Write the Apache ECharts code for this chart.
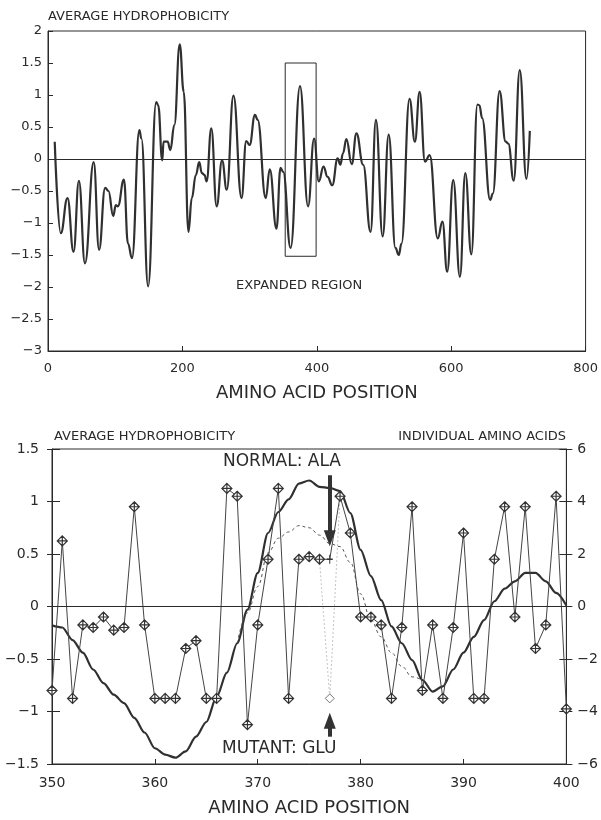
<!DOCTYPE html>
<html><head><meta charset="utf-8">
<script src="https://cdn.jsdelivr.net/npm/echarts@6/dist/echarts.min.js"></script>
<style>html,body{margin:0;padding:0;background:#fff}#c{width:601px;height:820px}</style>
</head><body><div id="c"></div>
<script>
// ---------- DATA (top panel: whole protein) ----------
const topPositions = [10,19,29,38,46,55,68,76,85,90,97,101,104,113,119,125,136,139,149,161,164,170,172,178,182,188,196,202,209,214,220,225,229,233,236,243,251,259,266,276,288,295,300,308,312,324,330,340,346,350,361,375,387,396,403,410,416,423,431,435,439,444,452,459,469,480,488,498,507,517,522,526,538,546,553,561,568,580,587,594,603,613,621,630,639,642,646,658,662,672,681,685,693,702,712,717];
const topValues = [0.27,-1.16,-0.61,-1.45,-0.34,-1.63,-0.05,-1.42,-0.45,-0.5,-0.89,-0.72,-0.74,-0.32,-1.32,-1.55,0.45,0.32,-1.99,0.89,0.84,-0.02,0.27,0.27,0.14,0.53,1.79,1.05,-1.14,-0.61,-0.25,-0.05,-0.22,-0.25,-0.35,0.48,-0.74,-0.02,-0.48,0.99,-0.61,0.28,0.22,0.69,0.61,-0.61,-0.16,-1.09,-0.14,-0.2,-1.39,1.14,-0.74,0.32,-0.35,-0.12,-0.28,-0.41,0.01,-0.09,0.09,0.31,-0.08,0.4,-0.09,-1.14,0.61,-1.21,0.38,-1.39,-1.5,-1.32,0.94,0.27,1.05,-0.04,0.06,-1.24,-0.98,-1.76,-0.33,-1.84,-0.22,-1.49,0.85,0.84,0.64,-0.64,-0.54,1.06,0.27,0.24,-0.34,1.39,-0.31,0.44];
const expandedBox = {x0: 353, x1: 399, y0: -1.52, y1: 1.5};
const topXTickLabels = {0:'0',200:'200',400:'400',600:'600',800:'800'};
const topYTickLabels = {'2':'2','1.5':'1.5','1':'1','0.5':'0.5','0':'0','-0.5':'−0.5','-1':'−1','-1.5':'−1.5','-2':'−2','-2.5':'−2.5','-3':'−3'};

// ---------- DATA (bottom panel: residues 350-400) ----------
const residuePositions = [350,351,352,353,354,355,356,357,358,359,360,361,362,363,364,365,366,367,368,369,370,371,372,373,374,375,376,377,378,379,380,381,382,383,384,385,386,387,388,389,390,391,392,393,394,395,396,397,398,399,400];
const individualValues = [-3.2,2.5,-3.5,-0.7,-0.8,-0.4,-0.9,-0.8,3.8,-0.7,-3.5,-3.5,-3.5,-1.6,-1.3,-3.5,-3.5,4.5,4.2,-4.5,-0.7,1.8,4.5,-3.5,1.8,1.9,1.8,1.8,4.2,2.8,-0.4,-0.4,-0.7,-3.5,-0.8,3.8,-3.2,-0.7,-3.5,-0.8,2.8,-3.5,-3.5,1.8,3.8,-0.4,3.8,-1.6,-0.7,4.2,-3.9];
const averageValues = [-0.18,-0.2,-0.32,-0.44,-0.6,-0.73,-0.84,-0.92,-1.06,-1.2,-1.35,-1.41,-1.44,-1.38,-1.24,-1.1,-0.86,-0.63,-0.35,-0.03,0.32,0.7,0.9,1.02,1.17,1.2,1.14,1.13,1.1,0.89,0.54,0.29,0.06,-0.19,-0.35,-0.51,-0.7,-0.81,-0.76,-0.6,-0.44,-0.29,-0.13,0.05,0.17,0.24,0.32,0.32,0.24,0.13,0.01];
const mutantAvgPositions = [368,369,370,371,372,373,374,375,376,377,378,379,380,381,382,383,384,385,386];
const mutantAvgValues = [-0.35,-0.06,0.19,0.51,0.65,0.71,0.77,0.75,0.68,0.6,0.57,0.42,0.12,-0.13,-0.29,-0.44,-0.57,-0.67,-0.7];
const mutantPositions = [376,377,378];
const mutantValues = [1.8,-3.5,4.2];
const normalPosition = 377;
const arrowDown = [377, 5.0, 2.6];   // right-axis units: start, end
const arrowUp = [377, -4.96, -4.35];
const leftYTickLabels = {'1.5':'1.5','1':'1','0.5':'0.5','0':'0','-0.5':'−0.5','-1':'−1','-1.5':'−1.5'};
const rightYTickLabels = {'6':'6','4':'4','2':'2','0':'0','-2':'−2','-4':'−4','-6':'−6'};
const bottomXTickLabels = {350:'350',360:'360',370:'370',380:'380',390:'390',400:'400'};

// ---------- CHART ----------
const FONT = 'DejaVu Sans';
const INK = '#2a2a2a';
const chart = echarts.init(document.getElementById('c'), null, {renderer: 'canvas'});

const topSeriesData = topPositions.map((p, i) => [p, topValues[i]]);
const individualData = residuePositions.map((p, i) => {
  const item = {value: [p, individualValues[i]]};
  if (p === normalPosition) { item.symbol = 'path://M0,10L20,10M10,0L10,20'; item.symbolSize = [6, 9]; }
  return item;
});
const averageData = residuePositions.map((p, i) => [p, averageValues[i]]);
const mutantAvgData = mutantAvgPositions.map((p, i) => [p, mutantAvgValues[i]]);
const mutantData = mutantPositions.map((p, i) => {
  const item = {value: [p, mutantValues[i]]};
  item.symbol = (p === normalPosition) ? 'diamond' : 'none';
  return item;
});

const diamondCross = 'path://M10,0L20,10L10,20L0,10Z M0,10L20,10 M10,0L10,20';
const lbl = (map) => (v) => (map[String(v)] !== undefined ? map[String(v)] : '');
const axisLine = {show: true, onZero: false, lineStyle: {color: INK, width: 1}};
const noSplit = {show: false};

chart.setOption({
  animation: false,
  backgroundColor: '#fff',
  grid: [
    {left: 48, top: 31, width: 540, height: 320, show: true, borderColor: INK, borderWidth: 1, backgroundColor: 'transparent'},
    {left: 52, top: 449, width: 515, height: 315, show: true, borderColor: INK, borderWidth: 1, backgroundColor: 'transparent'}
  ],
  xAxis: [
    {gridIndex: 0, type: 'value', min: 0, max: 800, interval: 200,
     axisLine: axisLine, splitLine: noSplit,
     axisTick: {inside: true, length: 5, lineStyle: {color: INK}},
     axisLabel: {fontFamily: FONT, fontSize: 13, color: INK, margin: 11, formatter: lbl(topXTickLabels)},
     name: 'AMINO ACID POSITION', nameLocation: 'middle', nameGap: 33,
     nameTextStyle: {fontFamily: FONT, fontSize: 18, color: INK}},
    {gridIndex: 1, type: 'value', min: 350, max: 400, interval: 10,
     axisLine: axisLine, splitLine: noSplit,
     axisTick: {inside: true, length: 5, lineStyle: {color: INK}},
     axisLabel: {fontFamily: FONT, fontSize: 14, color: INK, margin: 12, formatter: lbl(bottomXTickLabels)},
     name: 'AMINO ACID POSITION', nameLocation: 'middle', nameGap: 35,
     nameTextStyle: {fontFamily: FONT, fontSize: 18, color: INK}}
  ],
  yAxis: [
    {gridIndex: 0, type: 'value', min: -3, max: 2, interval: 0.5,
     axisLine: axisLine, splitLine: noSplit,
     axisTick: {inside: true, length: 5, lineStyle: {color: INK}},
     axisLabel: {fontFamily: FONT, fontSize: 13, color: INK, margin: 6, formatter: lbl(topYTickLabels)}},
    {gridIndex: 1, type: 'value', min: -1.5, max: 1.5, interval: 0.5, position: 'left',
     axisLine: axisLine, splitLine: noSplit,
     axisTick: {inside: true, length: 8, lineStyle: {color: INK}},
     axisLabel: {fontFamily: FONT, fontSize: 14, color: INK, margin: 13, formatter: lbl(leftYTickLabels)}},
    {gridIndex: 1, type: 'value', min: -6, max: 6, interval: 2, position: 'right',
     axisLine: axisLine, splitLine: noSplit,
     axisTick: {inside: true, length: 7, lineStyle: {color: INK}},
     axisLabel: {fontFamily: FONT, fontSize: 14, color: INK, margin: 11, formatter: lbl(rightYTickLabels)}},
    {gridIndex: 1, type: 'value', min: -1.5, max: 1.5, interval: 0.5, position: 'left',
     axisLine: {show: false}, splitLine: noSplit, axisLabel: {show: false},
     axisTick: {inside: false, length: 5, lineStyle: {color: INK}}},
    {gridIndex: 1, type: 'value', min: -6, max: 6, interval: 2, position: 'right',
     axisLine: {show: false}, splitLine: noSplit, axisLabel: {show: false},
     axisTick: {inside: false, length: 6, lineStyle: {color: INK}}}
  ],
  series: [
    {type: 'line', xAxisIndex: 0, yAxisIndex: 0, data: topSeriesData,
     smooth: 0.45, smoothMonotone: 'x', showSymbol: false, silent: true,
     lineStyle: {color: '#303030', width: 2.2},
     markLine: {silent: true, symbol: 'none', label: {show: false},
       lineStyle: {color: INK, width: 1, type: 'solid'}, data: [{yAxis: 0}]},
     markArea: {silent: true, label: {show: false},
       itemStyle: {color: 'rgba(0,0,0,0)', borderColor: INK, borderWidth: 1},
       data: [[{coord: [expandedBox.x0, expandedBox.y1]}, {coord: [expandedBox.x1, expandedBox.y0]}]]}},
    {type: 'line', xAxisIndex: 1, yAxisIndex: 1, data: averageData,
     smooth: 0.3, smoothMonotone: 'x', showSymbol: false, silent: true,
     lineStyle: {color: '#303030', width: 2.2},
     markLine: {silent: true, symbol: 'none', label: {show: false},
       lineStyle: {color: INK, width: 1, type: 'solid'}, data: [{yAxis: 0}]}},
    {type: 'line', xAxisIndex: 1, yAxisIndex: 1, data: mutantAvgData,
     smooth: 0.4, smoothMonotone: 'x', showSymbol: false, silent: true,
     lineStyle: {color: '#555', width: 1, type: [3, 3]}},
    {type: 'line', xAxisIndex: 1, yAxisIndex: 2, data: mutantData,
     showSymbol: true, showAllSymbol: true, symbolSize: 9, silent: true,
     lineStyle: {color: '#c4c4c4', width: 1, type: [2, 2]},
     itemStyle: {color: '#fff', borderColor: '#777', borderWidth: 1}},
    {type: 'line', xAxisIndex: 1, yAxisIndex: 2, data: individualData,
     showSymbol: true, showAllSymbol: true, symbol: diamondCross, symbolSize: 10, silent: true,
     lineStyle: {color: '#444', width: 1},
     itemStyle: {color: '#fff', borderColor: '#333', borderWidth: 1.2},
     markLine: {silent: true, label: {show: false}, animation: false,
       lineStyle: {color: '#333', width: 4, type: 'solid'},
       symbolSize: [12, 16],
       data: [
         [{coord: [arrowDown[0], arrowDown[1]], symbol: 'none'}, {coord: [arrowDown[0], arrowDown[2]], symbol: 'triangle'}],
         [{coord: [arrowUp[0], arrowUp[1]], symbol: 'none'}, {coord: [arrowUp[0], arrowUp[2]], symbol: 'triangle'}]
       ]}}
  ],
  graphic: [
    {type: 'text', x: 48, y: 17, silent: true, style: {text: 'AVERAGE HYDROPHOBICITY', font: '13px "DejaVu Sans"', fill: INK, verticalAlign: 'middle', align: 'left'}},
    {type: 'text', x: 236, y: 286, silent: true, style: {text: 'EXPANDED REGION', font: '13px "DejaVu Sans"', fill: INK, verticalAlign: 'middle', align: 'left'}},
    {type: 'text', x: 54, y: 437, silent: true, style: {text: 'AVERAGE HYDROPHOBICITY', font: '13px "DejaVu Sans"', fill: INK, verticalAlign: 'middle', align: 'left'}},
    {type: 'text', x: 566, y: 437, silent: true, style: {text: 'INDIVIDUAL AMINO ACIDS', font: '13px "DejaVu Sans"', fill: INK, verticalAlign: 'middle', align: 'right'}},
    {type: 'text', x: 223, y: 462, silent: true, style: {text: 'NORMAL: ALA', font: '17px "DejaVu Sans"', fill: INK, verticalAlign: 'middle', align: 'left'}},
    {type: 'text', x: 222, y: 749, silent: true, style: {text: 'MUTANT: GLU', font: '17px "DejaVu Sans"', fill: INK, verticalAlign: 'middle', align: 'left'}}
  ]
});
</script>
</body></html>
